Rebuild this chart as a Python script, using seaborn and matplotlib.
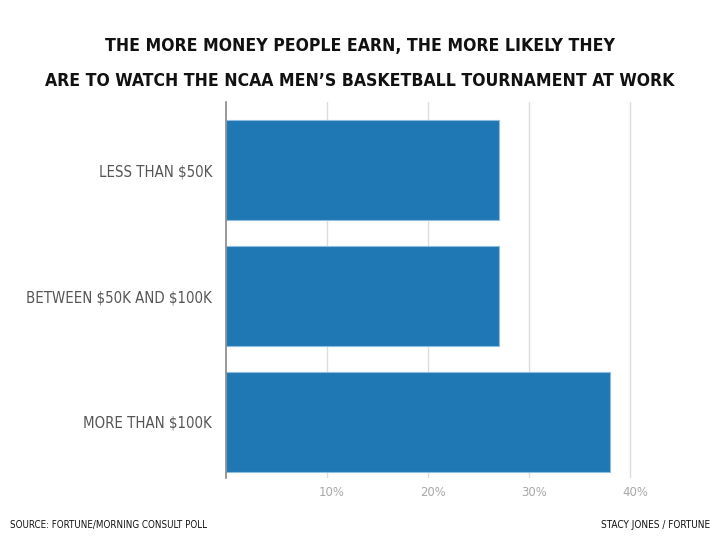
import pandas as pd
import numpy as np
import seaborn as sns
import matplotlib.pyplot as plt
import matplotlib.transforms as mtransforms
import matplotlib.font_manager as fm
import matplotlib.patheffects as pe

# ---------------- data ----------------
income_groups = ['LESS THAN \\$50K', 'BETWEEN \\$50K AND \\$100K', 'MORE THAN \\$100K']
watch_share = [27, 27, 38]
tick_values = [10, 20, 30, 40]
tick_labels = ['10%', '20%', '30%', '40%']

title_lines = ['THE MORE MONEY PEOPLE EARN, THE MORE LIKELY THEY',
               'ARE TO WATCH THE NCAA MEN\u2019S BASKETBALL TOURNAMENT AT WORK']
source_note = 'SOURCE: FORTUNE/MORNING CONSULT POLL'
credit_note = 'STACY JONES / FORTUNE'

df = pd.DataFrame({'group': income_groups, 'share': watch_share})

sns.set_style('white')
plt.rcParams['font.family'] = ['Liberation Sans', 'DejaVu Sans']


def weight_num(w):
    if isinstance(w, str):
        return fm.weight_dict.get(w, 400)
    return int(w)


# look for an upright condensed face, the original uses a narrow display font
narrow = [f for f in fm.fontManager.ttflist
          if ('Condensed' in f.name or 'Narrow' in f.name
              or f.stretch in ('condensed', 'semi-condensed', 'extra-condensed'))
          and f.style == 'normal']
narrow_bold = sorted([f for f in narrow if weight_num(f.weight) >= 600],
                     key=lambda f: abs(weight_num(f.weight) - 700))
narrow_reg = sorted([f for f in narrow if 350 <= weight_num(f.weight) < 600],
                    key=lambda f: abs(weight_num(f.weight) - 400))
if narrow_reg:
    body_font = fm.FontProperties(fname=narrow_reg[0].fname)
else:
    body_font = fm.FontProperties(family='Liberation Sans')
if narrow_bold:
    title_font = fm.FontProperties(fname=narrow_bold[0].fname)
    title_fx = []
else:
    # no bold narrow face: thicken the narrow one with a stroke
    title_font = body_font
    title_fx = [pe.withStroke(linewidth=1.1, foreground='#111111')]

fig = plt.figure(figsize=(7.2, 5.4), dpi=100)
ax = fig.add_axes([0.314, 0.115, 0.582, 0.696])

sns.barplot(data=df, x='share', y='group', orient='h', color='#1f77b4',
            saturation=1, width=0.794, edgecolor='#8fbde0', linewidth=0.8, ax=ax)

ax.set_xlim(0, 41.5)
ax.set_ylim(2.444, -0.54)
ax.set_xticks(tick_values)
ax.set_xticklabels(tick_labels, color='#a8a8a8')
ax.tick_params(axis='x', length=0, pad=6)
ax.tick_params(axis='y', length=0, pad=10, labelcolor='#555555')
for lbl in ax.get_yticklabels():
    lbl.set_fontproperties(body_font)
for lbl in ax.get_xticklabels():
    lbl.set_fontproperties(body_font)
# shift percentage labels a little right of their gridline, like the original
offset = mtransforms.ScaledTranslation(5 / 100, 0, fig.dpi_scale_trans)
for lbl in ax.get_xticklabels():
    lbl.set_transform(lbl.get_transform() + offset)

ax.grid(axis='x', color='#dddddd', linewidth=1)
ax.set_axisbelow(True)
for side in ['top', 'right', 'bottom']:
    ax.spines[side].set_visible(False)
ax.spines['left'].set_color('#888888')
ax.spines['left'].set_linewidth(1.2)
ax.set_xlabel('')
ax.set_ylabel('')

t_line1 = fig.text(0.5, 1 - 46 / 540, title_lines[0], ha='center', va='center',
                   fontproperties=title_font, color='#111111', path_effects=title_fx)
t_line2 = fig.text(0.5, 1 - 81 / 540, title_lines[1], ha='center', va='center',
                   fontproperties=title_font, color='#111111', path_effects=title_fx)
t_src = fig.text(0.014, 0.027, source_note, ha='left', va='center',
                 fontproperties=body_font, color='#111111')
t_cred = fig.text(0.986, 0.027, credit_note, ha='right', va='center',
                  fontproperties=body_font, color='#111111')


def fit_width(txt, target_px, max_size):
    # pick a font size so the text is as wide as in the reference
    txt.set_fontsize(10)
    fig.canvas.draw()
    w = txt.get_window_extent(fig.canvas.get_renderer()).width
    txt.set_fontsize(min(max_size, 10 * target_px / w))


fit_width(t_line2, 625, 25)
t_line1.set_fontsize(t_line2.get_fontsize())
fit_width(t_src, 199, 10.5)
fit_width(t_cred, 110, 10.5)
fig.canvas.draw()
ylbls = ax.get_yticklabels()
fit_width(ylbls[1], 185, 14)
for lbl in ylbls:
    lbl.set_fontsize(ylbls[1].get_fontsize())
xl = ax.get_xticklabels()
fit_width(xl[0], 26, 12.5)
for lbl in xl:
    lbl.set_fontsize(xl[0].get_fontsize())

fig.savefig('out.png', dpi=100)
